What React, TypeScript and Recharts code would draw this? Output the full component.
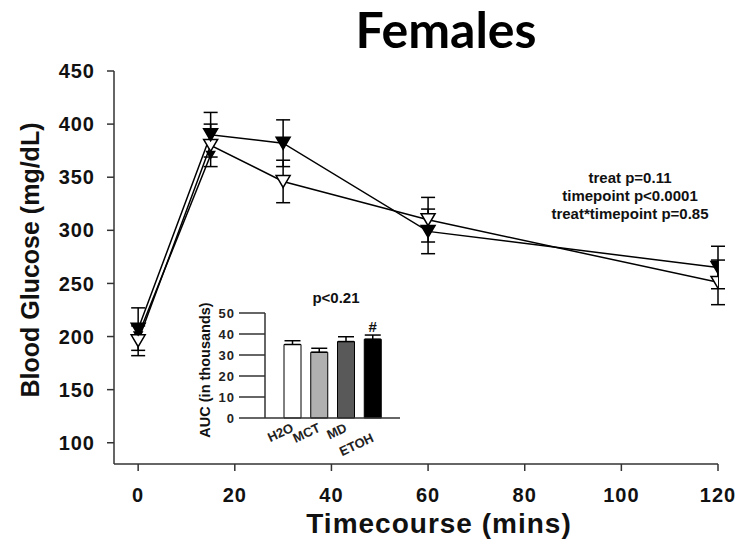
import {
  Bar,
  BarChart,
  Cell,
  ComposedChart,
  ErrorBar,
  LabelList,
  Line,
  XAxis,
  YAxis,
} from "recharts";

// main time course (mg/dL)
const timepoints = [0, 15, 30, 60, 120];
const filledMean = [207, 390, 382, 299, 265];
const filledSem = [20, 21, 22, 21, 20];
const openMean = [196, 380, 346, 310, 251];
const openSem = [14, 20, 20, 21, 21];
const thirdMean = [201, 371, null, null, null];

const xTicks = [0, 20, 40, 60, 80, 100, 120];
const yTicks = [100, 150, 200, 250, 300, 350, 400, 450];

// inset AUC bars (thousands)
const groups = ["H2O", "MCT", "MD", "ETOH"];
const aucMean = [35, 31.3, 36.4, 37.5];
const aucSem = [1.8, 1.9, 2.3, 2.0];
const aucMarks = ["", "", "", "#"];
const aucTicks = [0, 10, 20, 30, 40, 50];

const aucFill = ["#ffffff", "#b0b0b0", "#595959", "#000000"];

const stats = ["treat p=0.11", "timepoint p<0.0001", "treat*timepoint p=0.85"];

const rows = timepoints.map((t, i) => ({
  t,
  filled: filledMean[i],
  filledErr: filledSem[i],
  open: openMean[i],
  openErr: openSem[i],
  third: thirdMean[i],
}));

const aucRows = groups.map((g, i) => ({
  group: g,
  auc: aucMean[i],
  aucErr: [0, aucSem[i]],
  mark: aucMarks[i],
}));

const FONT = "'Liberation Sans', Arial, sans-serif";

const triangle = (filled: boolean, size = 7) => (props: any) => {
  const { cx, cy, index } = props;
  if (cx == null || cy == null || props.value == null) return <g key={`n-${index}`} />;
  const h = size * 0.85;
  return (
    <polygon
      key={`d-${index}`}
      points={`${cx - size},${cy - h} ${cx + size},${cy - h} ${cx},${cy + h}`}
      fill={filled ? "#000" : "#fff"}
      stroke="#000"
      strokeWidth={1.5}
    />
  );
};

const AucTick = (props: any) => {
  const { x, y, payload } = props;
  const extra = payload.value === "ETOH" ? 10 : 0;
  const ax = x + 2;
  const ay = y + 5 + extra;
  return (
    <text
      x={ax}
      y={ay}
      textAnchor="end"
      transform={`rotate(-25, ${ax}, ${ay})`}
      fontSize={13}
      fontWeight="bold"
      fontFamily={FONT}
      fill="#222"
    >
      {payload.value}
    </text>
  );
};

export default function App() {
  return (
    <div
      style={{
        position: "absolute",
        left: 0,
        top: 0,
        width: 743,
        height: 550,
        background: "#fff",
        fontFamily: FONT,
      }}
    >
      <ComposedChart
        width={743}
        height={550}
        data={rows}
        margin={{ top: 71, right: 25, bottom: 36, left: 54 }}
      >
        <XAxis
          type="number"
          dataKey="t"
          domain={[-5, 120]}
          ticks={xTicks}
          allowDataOverflow
          height={50}
          tickSize={7}
          tickMargin={17}
          stroke="#333"
          strokeWidth={1.5}
          tick={{ fontSize: 20, fontWeight: "bold", fill: "#111", fontFamily: FONT, letterSpacing: 1 }}
        />
        <YAxis
          type="number"
          domain={[80, 450]}
          ticks={yTicks}
          allowDataOverflow
          width={60}
          tickSize={7}
          tickMargin={12}
          stroke="#333"
          strokeWidth={1.5}
          tick={{ fontSize: 20, fontWeight: "bold", fill: "#111", fontFamily: FONT, letterSpacing: 1 }}
        />
        <Line
          dataKey="third"
          stroke="#000"
          strokeWidth={1.5}
          dot={triangle(true, 4)}
          isAnimationActive={false}
        />
        <Line
          dataKey="open"
          stroke="#000"
          strokeWidth={1.5}
          dot={triangle(false)}
          isAnimationActive={false}
        >
          <ErrorBar dataKey="openErr" direction="y" width={7} stroke="#000" strokeWidth={1.5} />
        </Line>
        <Line
          dataKey="filled"
          stroke="#000"
          strokeWidth={1.5}
          dot={triangle(true)}
          isAnimationActive={false}
        >
          <ErrorBar dataKey="filledErr" direction="y" width={7} stroke="#000" strokeWidth={1.5} />
        </Line>
      </ComposedChart>

      <div style={{ position: "absolute", left: 180, top: 290 }}>
        <BarChart
          width={230}
          height={180}
          data={aucRows}
          margin={{ top: 23, right: 10, bottom: 0, left: 0 }}
        >
          <XAxis
            dataKey="group"
            padding={{ left: 14, right: 14 }}
            tickLine={false}
            height={52}
            stroke="#333"
            strokeWidth={1.5}
            interval={0}
            tick={<AucTick />}
          />
          <YAxis
            domain={[0, 50]}
            ticks={aucTicks}
            width={85}
            tickSize={26}
            tickMargin={4}
            stroke="#333"
            strokeWidth={1.5}
            tick={{ fontSize: 13, fontWeight: "bold", fill: "#222", fontFamily: FONT, letterSpacing: 1 }}
          />
          <Bar dataKey="auc" barSize={17} stroke="#000" strokeWidth={1} isAnimationActive={false}>
            {aucRows.map((r, i) => (
              <Cell key={r.group} fill={aucFill[i]} />
            ))}
            <ErrorBar dataKey="aucErr" direction="y" width={8} stroke="#000" strokeWidth={1.5} />
            <LabelList
              dataKey="mark"
              position="top"
              offset={7}
              style={{ fontSize: 15, fontWeight: "bold", fill: "#111", fontFamily: FONT }}
            />
          </Bar>
        </BarChart>
      </div>

      <svg
        width={743}
        height={550}
        style={{ position: "absolute", left: 0, top: 0, pointerEvents: "none" }}
      >
        <text
          x={446}
          y={48}
          textAnchor="middle"
          fontSize={50}
          fontWeight="bold"
          fontFamily="Lato, 'Open Sans', sans-serif"
          fill="#000"
        >
          Females
        </text>
        <text
          x={30}
          y={260}
          textAnchor="middle"
          dominantBaseline="central"
          transform="rotate(-90, 30, 260)"
          fontSize={25}
          fontWeight="bold"
          fontFamily={FONT}
          fill="#111"
        >
          Blood Glucose (mg/dL)
        </text>
        <text
          x={439}
          y={533}
          textAnchor="middle"
          fontSize={28}
          fontWeight="bold"
          fontFamily={FONT}
          letterSpacing={1}
          fill="#111"
        >
          Timecourse (mins)
        </text>
        {stats.map((s, i) => (
          <text
            key={s}
            x={630}
            y={183 + i * 18}
            textAnchor="middle"
            fontSize={15}
            fontWeight="bold"
            fontFamily={FONT}
            fill="#111"
          >
            {s}
          </text>
        ))}
        <text
          x={336}
          y={303}
          textAnchor="middle"
          fontSize={15}
          fontWeight="bold"
          fontFamily={FONT}
          fill="#111"
        >
          p&lt;0.21
        </text>
        <text
          x={205}
          y={370}
          textAnchor="middle"
          dominantBaseline="central"
          transform="rotate(-90, 205, 370)"
          fontSize={14.5}
          fontWeight="bold"
          fontFamily={FONT}
          fill="#111"
        >
          AUC (in thousands)
        </text>
      </svg>
    </div>
  );
}
